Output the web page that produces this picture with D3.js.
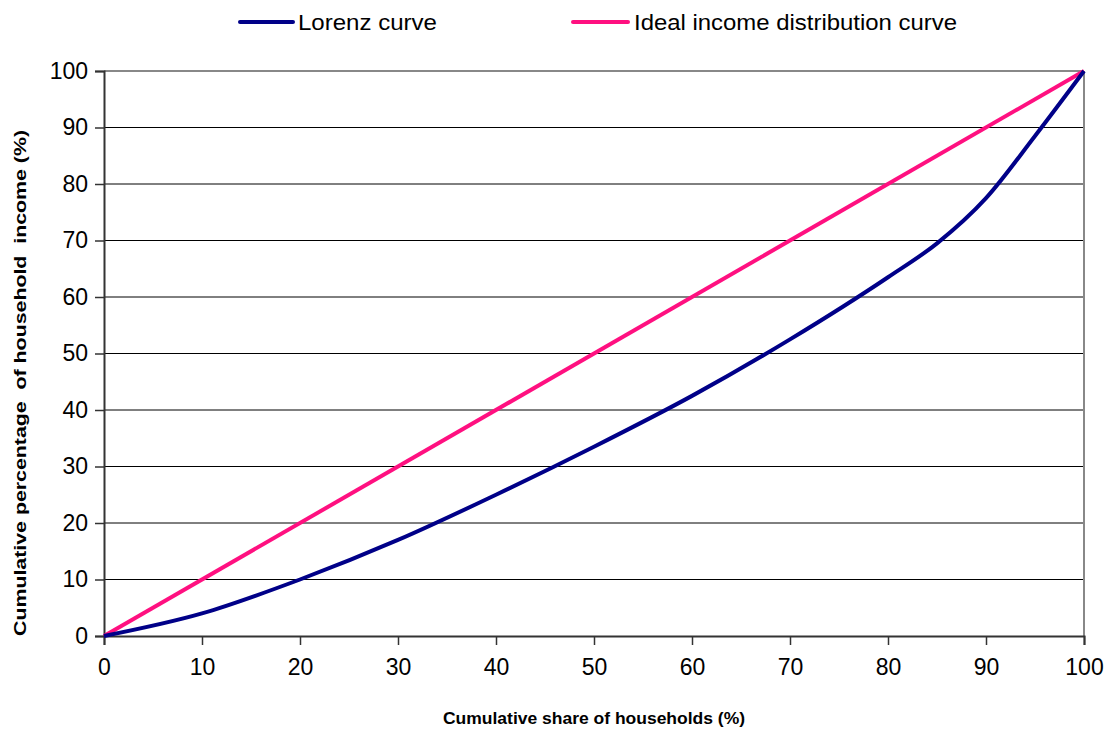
<!DOCTYPE html>
<html><head><meta charset="utf-8">
<script src="https://cdn.jsdelivr.net/npm/d3@7"></script>
<style>body{margin:0;background:#fff}svg{display:block}text{font-family:"Liberation Sans",Arial,sans-serif}</style>
</head><body>
<svg id="c" width="1119" height="729"></svg>
<script>
const shareHouseholds = [0,10,20,30,40,50,60,70,80,85,90,95,100];
const lorenzIncome    = [0,4,10,17,25,33.5,42.5,52.5,63.5,69.5,77.5,88.5,100];
const idealShare = [0,100];
const idealIncome = [0,100];
const tickValues = [0,10,20,30,40,50,60,70,80,90,100];
const seriesNames = ["Lorenz curve","Ideal income distribution curve"];
const seriesColors = ["#000088","#ff1080"];

const svg = d3.select("#c");
const L=104,R=1084,T=71,B=636;
const x = d3.scaleLinear().domain([0,100]).range([L,R]);
const y = d3.scaleLinear().domain([0,100]).range([B,T]);

// gridlines
svg.append("g").selectAll("line").data(tickValues.filter(v=>v>0&&v<100)).join("line")
  .attr("x1",L).attr("x2",R).attr("y1",d=>y(d)).attr("y2",d=>y(d))
  .attr("stroke","#000").attr("stroke-width",1);
// border top/right
svg.append("line").attr("x1",L).attr("x2",R).attr("y1",T).attr("y2",T).attr("stroke","#888").attr("stroke-width",2);
svg.append("line").attr("x1",R).attr("x2",R).attr("y1",T).attr("y2",B).attr("stroke","#888").attr("stroke-width",2);

const yAxis = svg.append("g").attr("transform",`translate(${L},0)`)
  .call(d3.axisLeft(y).tickValues(tickValues).tickSize(9).tickPadding(7));
const xAxis = svg.append("g").attr("transform",`translate(0,${B})`)
  .call(d3.axisBottom(x).tickValues(tickValues).tickSize(9).tickPadding(14));
[yAxis,xAxis].forEach(a=>{
  a.select(".domain").attr("stroke","#333").attr("stroke-width",2);
  a.selectAll(".tick line").attr("stroke","#333").attr("stroke-width",1.5);
  a.selectAll("text").attr("font-size",23).attr("fill","#000")
   .style("font-family",'"Liberation Sans",Arial,sans-serif');
});

const line = d3.line().x(d=>x(d[0])).y(d=>y(d[1]));
const lorenz = d3.line().x(d=>x(d[0])).y(d=>y(d[1])).curve(d3.curveMonotoneX);
svg.append("path").datum(idealShare.map((v,i)=>[v,idealIncome[i]]))
  .attr("d",line).attr("fill","none").attr("stroke",seriesColors[1]).attr("stroke-width",4);
svg.append("path").datum(shareHouseholds.map((v,i)=>[v,lorenzIncome[i]]))
  .attr("d",lorenz).attr("fill","none").attr("stroke",seriesColors[0]).attr("stroke-width",4);

// axis titles
svg.append("text").attr("x",594).attr("y",724).attr("text-anchor","middle")
  .attr("font-size",16).attr("font-weight","bold").attr("textLength",302).attr("lengthAdjust","spacingAndGlyphs")
  .text("Cumulative share of households (%)");
svg.append("text").attr("transform","translate(26,383) rotate(-90)").attr("text-anchor","middle")
  .attr("font-size",16).attr("font-weight","bold").attr("textLength",506).attr("lengthAdjust","spacingAndGlyphs")
  .style("white-space","pre").attr("xml:space","preserve")
  .text("Cumulative percentage  of household  income (%)");

// legend
const leg=[{x1:240,x2:293,tx:298,tl:139},{x1:573,x2:628,tx:634,tl:323}];
leg.forEach((l,i)=>{
  svg.append("line").attr("x1",l.x1).attr("x2",l.x2).attr("y1",22).attr("y2",22)
    .attr("stroke",seriesColors[i]).attr("stroke-width",4).attr("stroke-linecap","round");
  svg.append("text").attr("x",l.tx).attr("y",30).attr("font-size",22)
    .attr("textLength",l.tl).attr("lengthAdjust","spacingAndGlyphs").text(seriesNames[i]);
});
</script>
</body></html>
